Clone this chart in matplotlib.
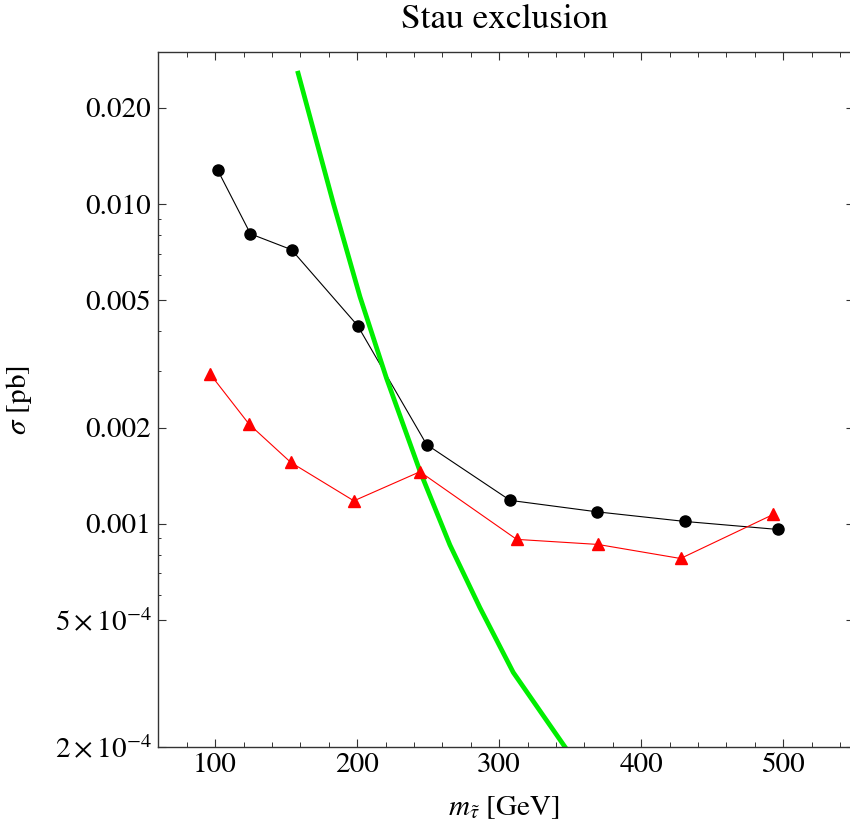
import matplotlib
matplotlib.use("Agg")
import matplotlib.pyplot as plt
from matplotlib.ticker import FixedLocator, MultipleLocator, NullFormatter, NullLocator

plt.rcParams['font.family'] = ['STIXGeneral', 'DejaVu Serif']
plt.rcParams['mathtext.fontset'] = 'stix'

# ---- data ----
mass_black = [101.7, 124.9, 153.8, 200.3, 248.9, 307.7, 369.0, 431.0, 496.5]
sigma_black = [0.01280, 0.00807, 0.00720, 0.00417, 0.00177, 0.001184, 0.00109, 0.001017, 0.000960]

mass_red = [96.5, 123.9, 153.3, 197.7, 244.2, 312.3, 369.5, 427.7, 493.0]
sigma_red = [0.00294, 0.00205, 0.001556, 0.00118, 0.001455, 0.000894, 0.000862, 0.000779, 0.00107]

mass_theory = [158.0, 183.2, 202.0, 220.7, 244.2, 265.3, 286.4, 309.9, 346.5, 350.0]
sigma_theory = [0.0261, 0.01007, 0.00513, 0.00285, 0.001462, 0.000859, 0.000547, 0.000343, 0.000200, 0.000190]

ytick_values = [2e-4, 5e-4, 1e-3, 2e-3, 5e-3, 1e-2, 2e-2]
ytick_labels = [r'$2\times10^{-4}$', r'$5\times10^{-4}$', '0.001', '0.002', '0.005', '0.010', '0.020']
yminor_values = [6e-4, 7e-4, 8e-4, 9e-4, 3e-3, 4e-3, 6e-3, 7e-3, 8e-3, 9e-3]
xtick_values = [100, 200, 300, 400, 500]

title = 'Stau exclusion'
xlabel = r'$m_{\tilde{\tau}}$ [GeV]'
ylabel = r'$\sigma$ [pb]'

# ---- figure ----
fig = plt.figure(figsize=(8.5, 8.32), dpi=100)
left_px, right_px, top_px, bot_px = 158.3, 852.0, 52.0, 747.3
ax = fig.add_axes([left_px / 850, 1 - bot_px / 832, (right_px - left_px) / 850, (bot_px - top_px) / 832])

ax.set_yscale('log')
ax.set_xlim(60, 548.4)
ax.set_ylim(2e-4, 0.0299)

ax.plot(mass_black, sigma_black, color='black', lw=0.8, zorder=1)
ax.plot(mass_red, sigma_red, color='red', lw=0.8, zorder=1)
ax.plot(mass_theory, sigma_theory, color='#00ee00', lw=3.4, zorder=2, solid_capstyle='butt')
ax.plot(mass_black, sigma_black, 'o', color='black', ms=8, zorder=3)
ax.plot(mass_red, sigma_red, '^', color='red', ms=8.5, mec='red', zorder=3)

ax.yaxis.set_major_locator(FixedLocator(ytick_values))
ax.set_yticklabels(ytick_labels)
ax.yaxis.set_minor_locator(FixedLocator(yminor_values))
ax.yaxis.set_minor_formatter(NullFormatter())

ax.xaxis.set_major_locator(FixedLocator(xtick_values))
ax.xaxis.set_minor_locator(MultipleLocator(20))

for s in ax.spines.values():
    s.set_color('0.2')
    s.set_linewidth(1.0)
ax.spines['right'].set_visible(False)

ax.tick_params(axis='x', which='major', direction='in', length=5.8, width=0.8,
               top=True, labelsize=21, pad=4, color='0.2')
ax.tick_params(axis='x', which='minor', direction='in', length=3.4, width=0.7,
               top=True, color='0.2')
ax.tick_params(axis='y', which='major', direction='in', length=5.8, width=0.8,
               right=False, labelsize=21, pad=5, color='0.2')
ax.tick_params(axis='y', which='minor', direction='in', length=2.2, width=0.7,
               right=False, color='0.2')

# right side: major ticks only, shorter (drawn inward from the right edge)
ax2 = ax.twinx()
ax2.set_yscale('log')
ax2.set_ylim(ax.get_ylim())
ax2.yaxis.set_major_locator(FixedLocator(ytick_values))
ax2.yaxis.set_minor_locator(NullLocator())
ax2.yaxis.set_major_formatter(NullFormatter())
ax2.tick_params(axis='y', which='major', direction='in', length=4.5, width=0.8, color='0.2')
for s in ax2.spines.values():
    s.set_visible(False)

ax.set_title(title, fontsize=25.5, pad=17)
ax.set_xlabel(xlabel, fontsize=21)
ax.set_ylabel(ylabel, fontsize=21)
ax.xaxis.set_label_coords(0.5 * (850 - left_px) / (right_px - left_px), -0.068)
ax.yaxis.set_label_coords(-0.18 * (850 - left_px) / (right_px - left_px), 0.5)
ax.title.set_position((0.5 * (850 - left_px) / (right_px - left_px), 1.0))

fig.savefig('out.png', dpi=100)
